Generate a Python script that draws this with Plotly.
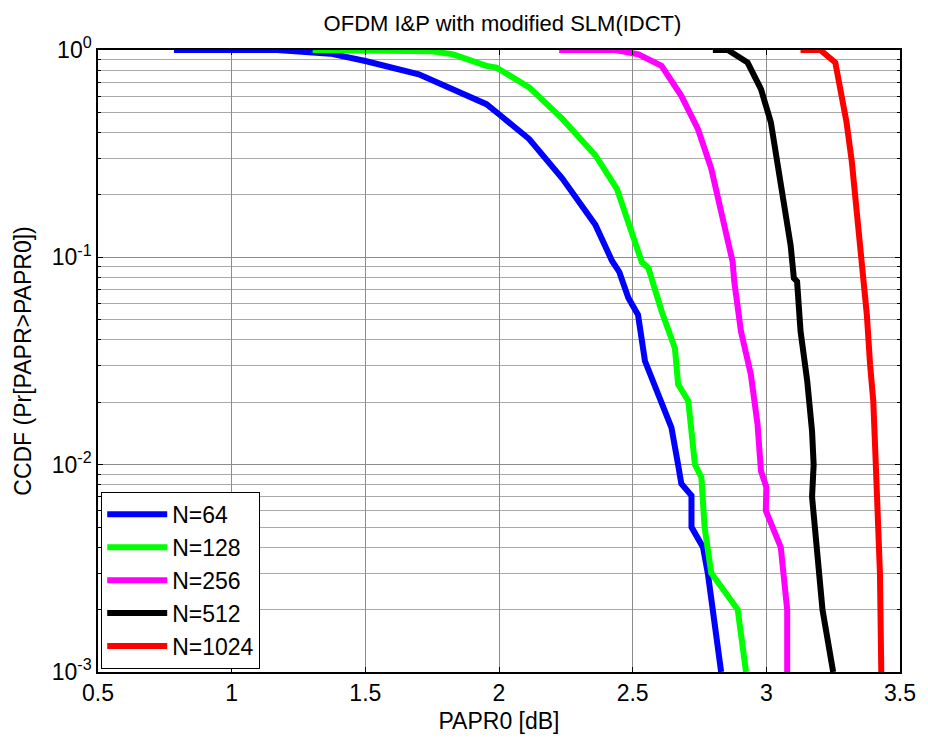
import plotly.graph_objects as go

# N=64
x64 = [0.784, 1.17, 1.37, 1.5, 1.70, 1.83, 1.953, 2.0, 2.113, 2.237, 2.361, 2.423, 2.45, 2.484, 2.52, 2.546,
       2.608, 2.645, 2.67, 2.682, 2.72, 2.72, 2.763, 2.781, 2.831]
y64 = [1.0, 1.0, 0.96, 0.885, 0.764, 0.648, 0.548, 0.49, 0.372, 0.24, 0.143, 0.096, 0.085, 0.0637, 0.0528, 0.0316,
       0.0203, 0.0151, 0.01, 0.0081, 0.0071, 0.005, 0.004, 0.003, 0.001]
# N=128
x128 = [1.303, 1.656, 1.75, 1.829, 1.953, 1.99, 2.113, 2.237, 2.361, 2.441, 2.484, 2.534, 2.559, 2.608, 2.658,
        2.67, 2.708, 2.733, 2.757, 2.769, 2.794, 2.893, 2.924]
y128 = [1.0, 1.0, 0.985, 0.953, 0.838, 0.823, 0.66, 0.465, 0.31, 0.214, 0.149, 0.095, 0.0887, 0.0551, 0.0364,
        0.0244, 0.0203, 0.01, 0.0087, 0.005, 0.003, 0.002, 0.001]
# N=256
x256 = [2.225, 2.435, 2.522, 2.608, 2.682, 2.744, 2.794, 2.831, 2.874, 2.88, 2.905, 2.942, 2.967, 2.98, 3.0,
        2.998, 3.054, 3.078, 3.078]
y256 = [1.0, 1.0, 0.953, 0.838, 0.601, 0.416, 0.268, 0.166, 0.095, 0.0765, 0.044, 0.0273, 0.0157, 0.0093, 0.0078,
        0.006, 0.004, 0.002, 0.001]
# N=512
x512 = [2.80, 2.856, 2.93, 2.98, 3.017, 3.042, 3.066, 3.091, 3.103, 3.115, 3.128, 3.153, 3.171, 3.177, 3.171,
        3.18, 3.19, 3.21, 3.25]
y512 = [1.0, 1.0, 0.87, 0.648, 0.448, 0.288, 0.178, 0.114, 0.0793, 0.0765, 0.044, 0.0253, 0.0145, 0.01, 0.007,
        0.005, 0.0035, 0.002, 0.001]
# N=1024
x1024 = [3.128, 3.202, 3.258, 3.277, 3.30, 3.32, 3.338, 3.35, 3.357, 3.357, 3.376, 3.388, 3.40, 3.407, 3.413,
         3.425, 3.43]
y1024 = [1.0, 1.0, 0.87, 0.648, 0.448, 0.288, 0.166, 0.114, 0.096, 0.082, 0.0528, 0.0305, 0.0203, 0.0121, 0.0078,
         0.003, 0.001]

series_names = ["N=64", "N=128", "N=256", "N=512", "N=1024"]
series_x = [x64, x128, x256, x512, x1024]
series_y = [y64, y128, y256, y512, y1024]
colors = ["#0000ff", "#00ff00", "#ff00ff", "#000000", "#ff0000"]

x_ticks = [0.5, 1, 1.5, 2, 2.5, 3, 3.5]
x_ticklabels = ["0.5", "1", "1.5", "2", "2.5", "3", "3.5"]
y_ticks = [0.001, 0.01, 0.1, 1]
y_ticklabels = ["10<sup>-3</sup>", "10<sup>-2</sup>", "10<sup>-1</sup>", "10<sup>0</sup>"]
y_minor_ticks = [m * d for d in (0.001, 0.01, 0.1) for m in range(2, 10)]

fig = go.Figure()
for name, xs, ys, c in zip(series_names, series_x, series_y, colors):
    fig.add_trace(go.Scatter(x=xs, y=ys, mode="lines", name=name,
                             line=dict(color=c, width=6)))

font = "Liberation Sans, Arial, sans-serif"
fig.update_layout(
    width=928, height=742,
    margin=dict(l=98, r=21, t=50, b=66),
    paper_bgcolor="white", plot_bgcolor="white",
    font=dict(family=font, size=22, color="black"),
    title=dict(text="OFDM I&P with modified SLM(IDCT)", x=0.5415, xanchor="center",
               y=0.969, yanchor="middle", font=dict(size=22, family=font)),
    xaxis=dict(range=[0.5, 3.5], tickvals=x_ticks, ticktext=x_ticklabels,
               showgrid=True, gridcolor="#8c8c8c", gridwidth=1,
               ticks="inside", ticklen=5, tickcolor="black",
               showline=True, linecolor="black", linewidth=1.5, mirror="allticks",
               zeroline=False, tickfont=dict(size=23),
               title=dict(text="PAPR0 [dB]", standoff=8, font=dict(size=23))),
    yaxis=dict(type="log", range=[-3, 0], tickvals=y_ticks, ticktext=y_ticklabels,
               showgrid=True, gridcolor="#8c8c8c", gridwidth=1,
               ticks="inside", ticklen=5, tickcolor="black",
               showline=True, linecolor="black", linewidth=1.5, mirror="allticks",
               zeroline=False, tickfont=dict(size=23),
               minor=dict(tickmode="array", tickvals=y_minor_ticks,
                          showgrid=True, gridcolor="#aaaaaa", gridwidth=1,
                          ticks="inside", ticklen=3, tickcolor="black"),
               title=dict(text="CCDF (Pr[PAPR>PAPR0])", standoff=14, font=dict(size=23))),
    legend=dict(x=0.004, y=0.005, xanchor="left", yanchor="bottom",
                bgcolor="white", bordercolor="black", borderwidth=1,
                font=dict(size=23), itemwidth=60, tracegroupgap=0),
    showlegend=True,
)

fig.write_html("out.html")
